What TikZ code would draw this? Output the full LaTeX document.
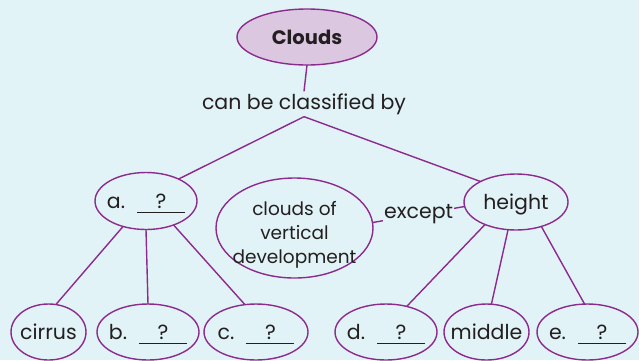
\documentclass[tikz,border=0pt]{standalone}
\usepackage{fontspec}
\setmainfont{Poppins}
\usetikzlibrary{shapes.geometric}
\definecolor{bgc}{HTML}{E1F3F6}
\definecolor{linec}{HTML}{8C2A8E}
\definecolor{fillc}{HTML}{DCC7E0}
\definecolor{inkc}{HTML}{231F20}
% centred text of zero size, so the ellipse keeps the size given to it
\newcommand\inbub[2][0.36em]{\raisebox{-#1}[0pt][0pt]{\makebox[0pt]{#2}}}
% answer blank with a question mark above the rule
\newcommand\qblank{\hspace{12pt}\rlap{\rule[-4.5pt]{48pt}{1.3pt}}\makebox[48pt]{?}}
\begin{document}
\begin{tikzpicture}[x=1pt,y=-1pt,
  every node/.style={text=inkc, font=\fontsize{20.5}{24}\selectfont},
  bub/.style 2 args={ellipse, draw=linec, line width=1.4pt, inner sep=0pt,
    outer sep=0pt, minimum width=#1, minimum height=#2},
  link/.style={draw=linec, line width=1.4pt}]
\useasboundingbox (0,0) rectangle (639,360);
\fill[bgc] (0,0) rectangle (639,360);

% top concept
\node[bub={140pt}{56pt}, fill=fillc, font=\fontsize{19.5}{23}\selectfont\bfseries] (clouds) at (307,37) {\inbub{Clouds}};
\node[inner sep=2pt] (cls) at (304,104) {can be classified by};

% second level
\node[bub={102pt}{57pt}] (a) at (146,201) {\inbub{a.\qblank}};
\node[bub={157pt}{100pt}, font=\fontsize{18.5}{24}\selectfont] (vert) at (294.5,228)
  {\inbub[0.6em]{\begin{tabular}{@{}c@{}}clouds of\\vertical\\development\end{tabular}}};
\node[bub={104pt}{56pt}] (height) at (516,202) {\inbub{height}};

% bottom level
\node[bub={75pt}{56pt}] (cirrus) at (48.5,332) {\inbub{cirrus}};
\node[bub={102pt}{56pt}] (b) at (148,332) {\inbub{b.\qblank}};
\node[bub={104pt}{56pt}] (c) at (256,332) {\inbub{c.\qblank}};
\node[bub={102pt}{56pt}] (d) at (386,332) {\inbub{d.\qblank}};
\node[bub={85pt}{56pt}] (middle) at (486.5,332) {\inbub{middle}};
\node[bub={101pt}{56pt}] (e) at (587.5,332) {\inbub{e.\qblank}};

% connectors
\draw[link] (clouds.south) -- (cls.north);
\draw[link] (cls.south) -- (a.34);
\draw[link] (cls.south) -- (height.150);
\draw[link] (vert.4) -- (height.185)
  node[midway, fill=bgc, inner sep=1pt] (except) {except};
\draw[link] (a.228) -- (cirrus.75);
\draw[link] (a.south) -- (b.north);
\draw[link] (a.319) -- (c.112);
\draw[link] (height.216) -- (d.51);
\draw[link] (height.254) -- (middle.80);
\draw[link] (height.316) -- (e.96);
\end{tikzpicture}
\end{document}
